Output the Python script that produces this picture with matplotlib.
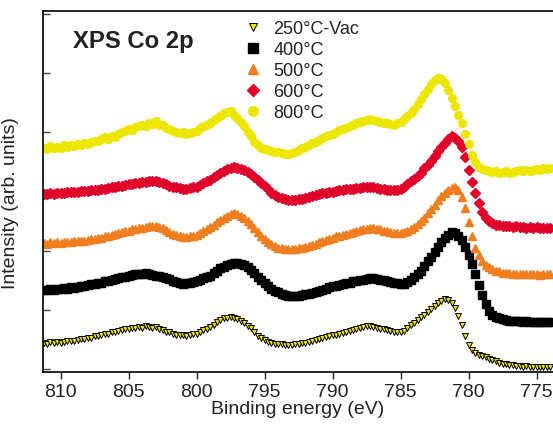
import numpy as np
import matplotlib
matplotlib.use('Agg')
import matplotlib.pyplot as plt

plt.rcParams['font.family'] = ['Liberation Sans', 'DejaVu Sans']

# binding energy grid (eV), 0.25 eV steps from 811.25 down to 774.0
energy = np.arange(811.25, 773.99, -0.25)

vac250 = [0.44, 0.43, 0.45, 0.44, 0.45, 0.44, 0.46, 0.47, 0.47, 0.48, 0.49, 0.50,
          0.51, 0.52, 0.53, 0.55, 0.56, 0.57, 0.59, 0.60, 0.62, 0.63, 0.65, 0.66,
          0.67, 0.68, 0.70, 0.70, 0.71, 0.70, 0.72, 0.71, 0.70, 0.71, 0.68, 0.66,
          0.63, 0.62, 0.60, 0.58, 0.57, 0.57, 0.56, 0.58, 0.59, 0.60, 0.63, 0.66,
          0.68, 0.71, 0.75, 0.79, 0.83, 0.86, 0.87, 0.88, 0.87, 0.85, 0.82, 0.78,
          0.73, 0.69, 0.62, 0.56, 0.52, 0.49, 0.46, 0.44, 0.43, 0.43, 0.42, 0.41,
          0.41, 0.41, 0.42, 0.43, 0.44, 0.44, 0.46, 0.48, 0.49, 0.50, 0.52, 0.54,
          0.56, 0.57, 0.58, 0.60, 0.61, 0.62, 0.64, 0.66, 0.68, 0.69, 0.71, 0.72,
          0.72, 0.71, 0.70, 0.68, 0.67, 0.66, 0.64, 0.63, 0.62, 0.63, 0.65, 0.69,
          0.74, 0.78, 0.83, 0.88, 0.92, 0.96, 1.01, 1.06, 1.11, 1.15, 1.18, 1.17,
          1.12, 1.03, 0.90, 0.74, 0.56, 0.41, 0.33, 0.27, 0.24, 0.22, 0.20, 0.17,
          0.15, 0.13, 0.11, 0.09, 0.08, 0.07, 0.06, 0.05, 0.05, 0.04, 0.05, 0.04,
          0.04, 0.03, 0.04, 0.03, 0.03, 0.03]

t400 = [1.34, 1.33, 1.35, 1.34, 1.36, 1.35, 1.37, 1.36, 1.38, 1.37, 1.39, 1.40,
        1.41, 1.42, 1.43, 1.44, 1.45, 1.46, 1.48, 1.49, 1.51, 1.52, 1.54, 1.55,
        1.56, 1.57, 1.59, 1.60, 1.61, 1.61, 1.62, 1.60, 1.59, 1.58, 1.57, 1.55,
        1.53, 1.52, 1.49, 1.47, 1.45, 1.44, 1.45, 1.46, 1.47, 1.48, 1.51, 1.54,
        1.56, 1.58, 1.62, 1.66, 1.70, 1.73, 1.76, 1.78, 1.80, 1.79, 1.78, 1.76,
        1.72, 1.68, 1.62, 1.56, 1.50, 1.45, 1.40, 1.36, 1.32, 1.30, 1.27, 1.25,
        1.24, 1.24, 1.23, 1.24, 1.25, 1.26, 1.27, 1.29, 1.31, 1.32, 1.34, 1.36,
        1.38, 1.40, 1.41, 1.42, 1.44, 1.45, 1.46, 1.48, 1.49, 1.50, 1.51, 1.52,
        1.53, 1.53, 1.52, 1.51, 1.50, 1.49, 1.47, 1.46, 1.45, 1.44, 1.43, 1.47,
        1.51, 1.55, 1.60, 1.66, 1.74, 1.82, 1.89, 1.97, 2.06, 2.14, 2.21, 2.27,
        2.31, 2.30, 2.25, 2.18, 2.07, 1.93, 1.78, 1.60, 1.42, 1.25, 1.10, 0.98,
        0.92, 0.88, 0.86, 0.84, 0.83, 0.82, 0.82, 0.81, 0.81, 0.80, 0.81, 0.80,
        0.80, 0.79, 0.80, 0.79, 0.79, 0.79]

t500 = [2.13, 2.12, 2.14, 2.13, 2.14, 2.13, 2.15, 2.14, 2.15, 2.16, 2.16, 2.17,
        2.17, 2.18, 2.19, 2.20, 2.21, 2.22, 2.24, 2.25, 2.27, 2.28, 2.30, 2.31,
        2.33, 2.34, 2.36, 2.37, 2.38, 2.39, 2.40, 2.41, 2.41, 2.41, 2.40, 2.38,
        2.35, 2.32, 2.29, 2.26, 2.24, 2.23, 2.23, 2.24, 2.25, 2.27, 2.30, 2.33,
        2.37, 2.40, 2.44, 2.48, 2.52, 2.55, 2.59, 2.62, 2.64, 2.62, 2.59, 2.55,
        2.50, 2.45, 2.38, 2.31, 2.25, 2.20, 2.15, 2.11, 2.08, 2.05, 2.04, 2.03,
        2.02, 2.02, 2.03, 2.04, 2.05, 2.06, 2.08, 2.10, 2.12, 2.14, 2.16, 2.18,
        2.20, 2.22, 2.24, 2.25, 2.27, 2.29, 2.30, 2.32, 2.34, 2.35, 2.36, 2.37,
        2.38, 2.38, 2.37, 2.36, 2.34, 2.33, 2.31, 2.30, 2.30, 2.30, 2.31, 2.34,
        2.37, 2.40, 2.45, 2.50, 2.56, 2.63, 2.70, 2.78, 2.85, 2.92, 2.98, 3.03,
        3.06, 3.07, 3.02, 2.90, 2.72, 2.48, 2.25, 2.05, 1.92, 1.82, 1.76, 1.72,
        1.69, 1.66, 1.65, 1.63, 1.62, 1.62, 1.61, 1.61, 1.61, 1.60, 1.61, 1.60,
        1.60, 1.60, 1.59, 1.60, 1.60, 1.60]

t600 = [2.96, 2.95, 2.97, 2.96, 2.98, 2.97, 2.98, 2.99, 3.00, 2.99, 3.00, 3.01,
        3.01, 3.01, 3.02, 3.03, 3.03, 3.04, 3.05, 3.06, 3.07, 3.08, 3.09, 3.10,
        3.11, 3.12, 3.13, 3.14, 3.15, 3.16, 3.16, 3.17, 3.17, 3.18, 3.16, 3.15,
        3.12, 3.10, 3.08, 3.07, 3.06, 3.05, 3.05, 3.06, 3.07, 3.08, 3.11, 3.14,
        3.17, 3.20, 3.24, 3.28, 3.32, 3.35, 3.38, 3.40, 3.41, 3.40, 3.38, 3.36,
        3.33, 3.30, 3.25, 3.19, 3.14, 3.10, 3.04, 2.98, 2.94, 2.91, 2.89, 2.87,
        2.86, 2.86, 2.86, 2.87, 2.88, 2.89, 2.91, 2.93, 2.94, 2.95, 2.97, 2.98,
        2.99, 3.00, 3.01, 3.02, 3.03, 3.04, 3.05, 3.05, 3.06, 3.06, 3.07, 3.07,
        3.07, 3.07, 3.06, 3.05, 3.04, 3.03, 3.03, 3.02, 3.03, 3.05, 3.08, 3.13,
        3.17, 3.21, 3.26, 3.32, 3.39, 3.45, 3.52, 3.60, 3.68, 3.75, 3.82, 3.88,
        3.93, 3.91, 3.86, 3.76, 3.58, 3.36, 3.16, 2.98, 2.80, 2.66, 2.56, 2.50,
        2.46, 2.44, 2.43, 2.42, 2.41, 2.41, 2.40, 2.41, 2.40, 2.40, 2.39, 2.40,
        2.39, 2.40, 2.39, 2.39, 2.39, 2.39]

t800 = [3.74, 3.72, 3.77, 3.74, 3.76, 3.73, 3.78, 3.76, 3.79, 3.77, 3.80, 3.78,
        3.82, 3.80, 3.84, 3.86, 3.85, 3.88, 3.92, 3.89, 3.94, 3.92, 3.97, 4.01,
        4.02, 4.05, 4.04, 4.09, 4.10, 4.13, 4.11, 4.16, 4.14, 4.19, 4.13, 4.12,
        4.08, 4.06, 4.03, 4.00, 3.99, 4.01, 3.97, 3.99, 4.01, 4.03, 4.07, 4.10,
        4.12, 4.16, 4.20, 4.24, 4.27, 4.32, 4.35, 4.36, 4.30, 4.25, 4.17, 4.10,
        4.01, 3.93, 3.84, 3.78, 3.74, 3.72, 3.70, 3.69, 3.67, 3.66, 3.65, 3.64,
        3.63, 3.65, 3.67, 3.70, 3.73, 3.76, 3.79, 3.82, 3.84, 3.87, 3.90, 3.93,
        3.95, 3.98, 4.01, 4.04, 4.06, 4.08, 4.11, 4.13, 4.15, 4.17, 4.19, 4.21,
        4.22, 4.21, 4.19, 4.18, 4.16, 4.15, 4.14, 4.13, 4.15, 4.18, 4.22, 4.27,
        4.33, 4.40, 4.48, 4.56, 4.65, 4.73, 4.81, 4.88, 4.92, 4.90, 4.84, 4.72,
        4.58, 4.45, 4.30, 4.15, 3.98, 3.80, 3.62, 3.50, 3.42, 3.38, 3.36, 3.34,
        3.33, 3.35, 3.32, 3.33, 3.34, 3.31, 3.33, 3.35, 3.36, 3.34, 3.37, 3.35,
        3.36, 3.38, 3.37, 3.39, 3.38, 3.40]

labels = ['250°C-Vac', '400°C', '500°C', '600°C', '800°C']
xticks = [810, 805, 800, 795, 790, 785, 780, 775]

fig = plt.figure(figsize=(5.53, 4.27), dpi=100)
ax = fig.add_axes([43/553, 54/427, 510/553, 361/427])

ax.plot(energy, vac250, 'v', ms=5.0, color='#ece300', mec='black', mew=0.7, ls='none', label=labels[0])
ax.plot(energy, t400, 's', ms=5.4, color='black', ls='none', label=labels[1])
ax.plot(energy, t500, '^', ms=5.6, color='#f07d1e', mec='#f07d1e', ls='none', label=labels[2])
ax.plot(energy, t600, 'D', ms=4.6, color='#e1002a', mec='#e1002a', ls='none', label=labels[3])
ax.plot(energy, t800, 'o', ms=5.6, color='#ede600', mec='#ede600', ls='none', label=labels[4])

ax.set_xlim(811.3, 773.8)
ax.set_ylim(-0.05, 6.05)
ax.set_xticks(xticks)
ax.set_yticks(range(7))
ax.set_yticklabels([])
ax.tick_params(axis='x', direction='out', length=5, width=1, labelsize=14, pad=3, colors='#222222')
ax.tick_params(axis='y', direction='in', length=5, width=1, colors='#444444')
ax.spines['right'].set_visible(False)
for s in ['left', 'top', 'bottom']:
    ax.spines[s].set_linewidth(1.2)

ax.set_xlabel('Binding energy (eV)', fontsize=14, labelpad=0, color='#222222')
ax.set_ylabel('Intensity (arb. units)', fontsize=14, labelpad=9, color='#222222')
ax.yaxis.set_label_coords(-0.047, 0.47)

fig.text(72.7/553, 1 - 48.3/427, 'XPS Co 2p', fontsize=17.2, fontweight='bold',
         ha='left', va='baseline', color='#222222')

leg = ax.legend(loc='upper left', bbox_to_anchor=(0.395, 0.975), frameon=False,
                fontsize=13, handlelength=1.0, handletextpad=0.6, labelspacing=0.22,
                borderpad=0, borderaxespad=0, markerscale=1.25)
for t in leg.get_texts():
    t.set_color('#222222')

fig.savefig('out.png', dpi=100)
